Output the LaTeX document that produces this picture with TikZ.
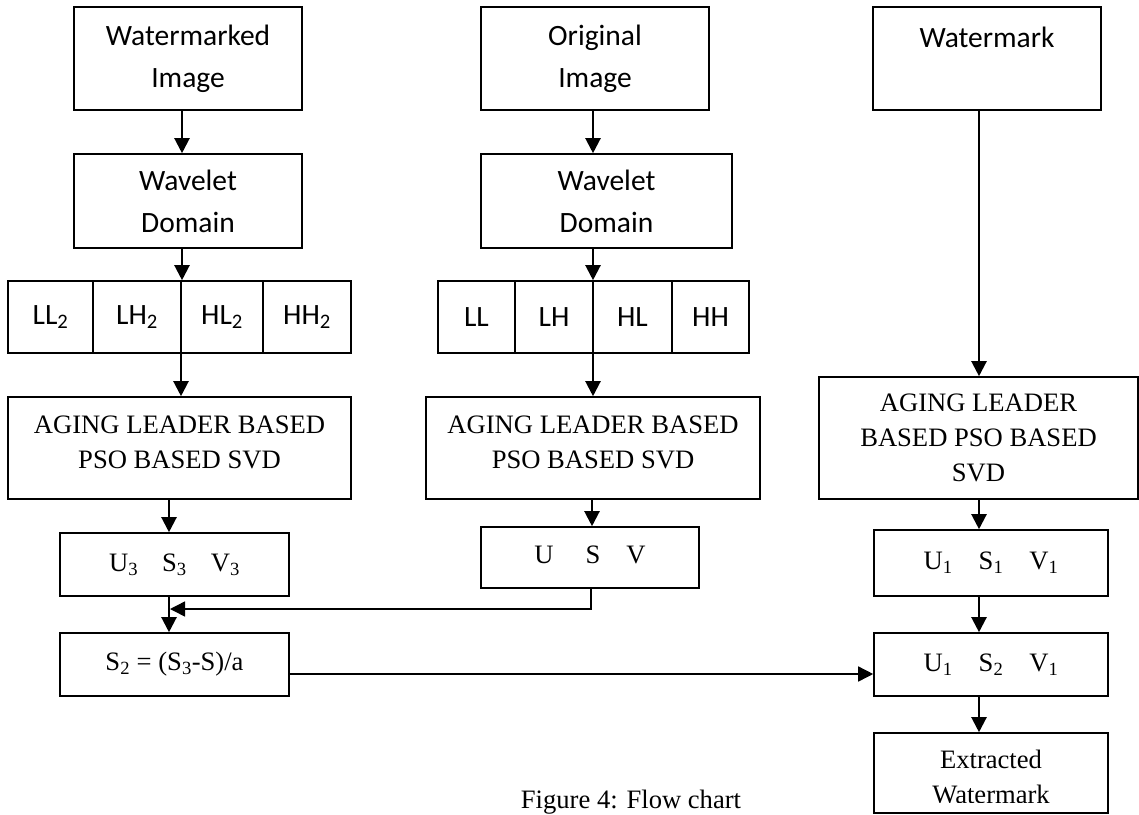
\documentclass[tikz,border=0pt]{standalone}
\usepackage{fontspec}
\setmainfont{Liberation Serif}
\newfontfamily\calfont{Carlito}
\usetikzlibrary{arrows.meta}
\begin{document}
\begin{tikzpicture}[x=1pt,y=-1pt,
  box/.style={draw, line width=1.6pt, inner sep=0pt, align=center},
  sans/.style={font=\calfont\fontsize{29.5}{42}\selectfont},
  serif/.style={font=\fontsize{26.6}{35}\selectfont},
  arr/.style={line width=2.2pt,-{Triangle[width=15pt,length=15pt]}},
  thinarr/.style={line width=1.5pt,-{Triangle[width=15pt,length=15pt]}}]
\useasboundingbox (0,0) rectangle (1139,814);

% x positions of vertical connectors
\coordinate (cA) at (182,0);
\coordinate (cB) at (181,0);
\coordinate (cC) at (169,0);
\coordinate (cM) at (593,0);
\coordinate (cM2) at (592,0);
\coordinate (cU) at (591,0);
\coordinate (cR) at (979,0);
\coordinate (yl) at (0,674);
\coordinate (j) at (170,609);

% left column
\node[box,sans,minimum width=228pt,minimum height=103pt] (wmi) at (188,58.5) {Watermarked\\Image};
\node[box,sans,minimum width=228pt,minimum height=94pt] (wd1) at (188,201) {Wavelet\\Domain};
\node[box,sans,minimum width=85pt,minimum height=72pt] (b1) at (50.5,317) {LL\textsubscript{2}};
\node[box,sans,minimum width=88pt,minimum height=72pt] (b2) at (137,317) {LH\textsubscript{2}};
\node[box,sans,minimum width=82pt,minimum height=72pt] (b3) at (222,317) {HL\textsubscript{2}};
\node[box,sans,minimum width=88pt,minimum height=72pt] (b4) at (307,317) {HH\textsubscript{2}};
\node[box,serif,text depth=12pt,minimum width=343pt,minimum height=102pt] (ag1) at (179.5,448) {AGING LEADER BASED\\PSO BASED SVD};
\node[box,serif,minimum width=229pt,minimum height=63pt] (usv3) at (174.5,564.5) {U\textsubscript{3}\hspace{24pt}S\textsubscript{3}\hspace{24pt}V\textsubscript{3}};
\node[box,serif,minimum width=229pt,minimum height=63pt] (s2) at (174.5,664.5) {S\textsubscript{2} = (S\textsubscript{3}-S)/a};

% middle column
\node[box,sans,minimum width=228pt,minimum height=103pt] (ori) at (595,58.5) {Original\\Image};
\node[box,sans,minimum width=251pt,minimum height=94pt] (wd2) at (606.5,201) {Wavelet\\Domain};
\node[box,sans,minimum width=77pt,minimum height=72pt] (m1) at (476.5,317) {LL};
\node[box,sans,minimum width=78pt,minimum height=72pt] (m2) at (554,317) {LH};
\node[box,sans,minimum width=79pt,minimum height=72pt] (m3) at (632.5,317) {HL};
\node[box,sans,minimum width=77pt,minimum height=72pt] (m4) at (710.5,317) {HH};
\node[box,serif,text depth=12pt,minimum width=334pt,minimum height=102pt] (ag2) at (593,448) {AGING LEADER BASED\\PSO BASED SVD};
\node[box,serif,text height=13pt,minimum width=218pt,minimum height=61pt] (usv) at (590,557.5) {U\hspace{32pt}S\hspace{26pt}V};

% right column
\node[box,sans,minimum width=228pt,minimum height=103pt] (wmk) at (987,58.5) {Watermark\\~};
\node[box,serif,minimum width=319pt,minimum height=122pt] (ag3) at (978.5,438) {AGING LEADER\\BASED PSO BASED\\SVD};
\node[box,serif,minimum width=234pt,minimum height=66pt] (usv1) at (991,563) {U\textsubscript{1}\hspace{26pt}S\textsubscript{1}\hspace{26pt}V\textsubscript{1}};
\node[box,serif,minimum width=234pt,minimum height=63pt] (usv2) at (991,664.5) {U\textsubscript{1}\hspace{26pt}S\textsubscript{2}\hspace{26pt}V\textsubscript{1}};
\node[box,minimum width=234pt,minimum height=80pt] (ext) at (991,773) {};
\begin{scope}
  \clip (874,733) rectangle (1108,802);
  \node[serif,align=center,inner sep=0pt] (extt) at (991,777) {Extracted\\Watermark};
\end{scope}

% caption
\node[serif,anchor=base,inner sep=0pt] (cap) at (631,808) {Figure 4: Flow chart};

% connectors left
\draw[arr] (wmi.south -| cA) -- (wd1.north -| cA);
\draw[arr] (wd1.south -| cA) -- (b2.north -| cA);
\draw[arr] (b2.south -| cB) -- (ag1.north -| cB);
\draw[arr] (ag1.south -| cC) -- (usv3.north -| cC);
\draw[arr] (usv3.south -| cC) -- (s2.north -| cC);

% connectors middle
\draw[arr] (ori.south -| cM) -- (wd2.north -| cM);
\draw[arr] (wd2.south -| cM) -- (m3.north -| cM);
\draw[arr] (m3.south -| cM) -- (ag2.north -| cM);
\draw[arr] (ag2.south -| cM2) -- (usv.north -| cM2);
\draw[thinarr] (usv.south -| cU) |- (j);

% connectors right
\draw[arr] (wmk.south -| cR) -- (ag3.north -| cR);
\draw[arr] (ag3.south -| cR) -- (usv1.north -| cR);
\draw[arr] (usv1.south -| cR) -- (usv2.north -| cR);
\draw[arr] (usv2.south -| cR) -- (ext.north -| cR);

% S2 to U1 S2 V1
\draw[thinarr] (s2.east |- yl) -- (usv2.west |- yl);
\end{tikzpicture}
\end{document}
